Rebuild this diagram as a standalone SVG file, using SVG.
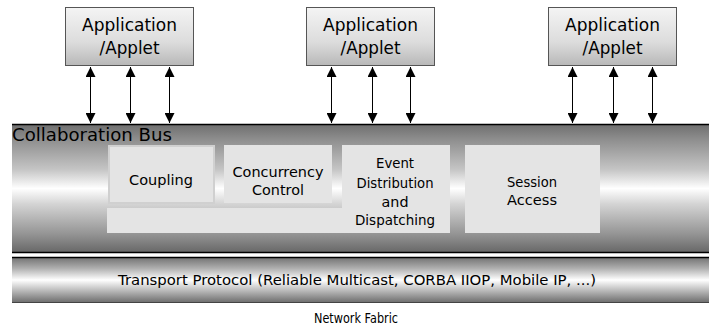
<svg xmlns="http://www.w3.org/2000/svg" width="709" height="328" viewBox="0 0 709 328">
  <defs>
    <linearGradient id="appFill" x1="0" y1="0" x2="0" y2="1">
      <stop offset="0" stop-color="#f4f4f4"/>
      <stop offset="0.6" stop-color="#dcdcdc"/>
      <stop offset="1" stop-color="#b8b8b8"/>
    </linearGradient>
    <linearGradient id="busFill" x1="0" y1="0" x2="0" y2="1">
      <stop offset="0" stop-color="#6e6e6e"/>
      <stop offset="0.12" stop-color="#8e8e8e"/>
      <stop offset="0.35" stop-color="#c4c4c4"/>
      <stop offset="0.5" stop-color="#ffffff"/>
      <stop offset="0.62" stop-color="#d4d4d4"/>
      <stop offset="0.85" stop-color="#959595"/>
      <stop offset="1" stop-color="#666666"/>
    </linearGradient>
    <linearGradient id="pipeFill" x1="0" y1="0" x2="0" y2="1">
      <stop offset="0" stop-color="#707070"/>
      <stop offset="0.25" stop-color="#b0b0b0"/>
      <stop offset="0.5" stop-color="#ffffff"/>
      <stop offset="0.75" stop-color="#b4b4b4"/>
      <stop offset="1" stop-color="#6a6a6a"/>
    </linearGradient>
    <marker id="head" viewBox="0 0 10 10" refX="10" refY="5" markerWidth="10" markerHeight="10" markerUnits="userSpaceOnUse" orient="auto-start-reverse">
      <path d="M0,0 L10,5 L0,10 Z" fill="#000"/>
    </marker>
  </defs>
  <style>
    .app { fill: url(#appFill); stroke: #555; stroke-width: 1; }
    .mod { fill: #e4e4e4; }
    .modEdge { fill: #e4e4e4; stroke: #d0d0d0; stroke-width: 2; }
    .t { font-family: "DejaVu Sans", "Liberation Sans", sans-serif; fill: #000; }
    .big { font-size: 17px; }
    .small { font-size: 14px; }
    .link { stroke: #000; stroke-width: 1; fill: none; marker-start: url(#head); marker-end: url(#head); }
  </style>

  <!-- transport layer and the network label below it -->
  <g id="transport">
    <rect x="12" y="257" width="697" height="46" fill="url(#pipeFill)"/>
    <line x1="12" y1="257.5" x2="709" y2="257.5" stroke="#000" stroke-width="1.5"/>
    <line x1="12" y1="302.5" x2="709" y2="302.5" stroke="#444" stroke-width="1"/>
    <text class="t small" x="357" y="285" text-anchor="middle" textLength="478" lengthAdjust="spacingAndGlyphs">Transport Protocol (Reliable Multicast, CORBA IIOP, Mobile IP, ...)</text>
  </g>
  <g id="network">
    <text class="t small" x="356" y="323" text-anchor="middle" textLength="84" lengthAdjust="spacingAndGlyphs">Network Fabric</text>
  </g>

  <!-- collaboration bus -->
  <g id="bus">
    <rect x="12" y="124" width="697" height="129" fill="url(#busFill)"/>
    <line x1="12" y1="124.5" x2="709" y2="124.5" stroke="#000" stroke-width="1.5"/>
    <line x1="12" y1="252.5" x2="709" y2="252.5" stroke="#000" stroke-width="1.5"/>
    <text class="t big" x="12" y="141" textLength="160" lengthAdjust="spacingAndGlyphs">Collaboration Bus</text>
  </g>

  <!-- shared strip under the first two modules -->
  <g id="strip">
    <rect class="mod" x="107" y="208" width="235" height="25"/>
  </g>

  <g id="coupling">
    <rect class="modEdge" x="109" y="146" width="105" height="57"/>
    <text class="t small" x="161" y="185" text-anchor="middle" textLength="64" lengthAdjust="spacingAndGlyphs">Coupling</text>
  </g>

  <g id="concurrency">
    <rect class="mod" x="224" y="145" width="108" height="58"/>
    <text class="t small" x="278" y="177" text-anchor="middle" textLength="91" lengthAdjust="spacingAndGlyphs">Concurrency</text>
    <text class="t small" x="278" y="195" text-anchor="middle" textLength="52" lengthAdjust="spacingAndGlyphs">Control</text>
  </g>

  <g id="event">
    <rect class="mod" x="342" y="145" width="108" height="88"/>
    <text class="t small" x="395" y="168" text-anchor="middle" textLength="38" lengthAdjust="spacingAndGlyphs">Event</text>
    <text class="t small" x="395" y="188" text-anchor="middle" textLength="77" lengthAdjust="spacingAndGlyphs">Distribution</text>
    <text class="t small" x="395" y="207" text-anchor="middle" textLength="27" lengthAdjust="spacingAndGlyphs">and</text>
    <text class="t small" x="395" y="225" text-anchor="middle" textLength="80" lengthAdjust="spacingAndGlyphs">Dispatching</text>
  </g>

  <g id="session">
    <rect class="mod" x="465" y="145" width="135" height="88"/>
    <text class="t small" x="532" y="187" text-anchor="middle" textLength="50" lengthAdjust="spacingAndGlyphs">Session</text>
    <text class="t small" x="532" y="205" text-anchor="middle" textLength="50" lengthAdjust="spacingAndGlyphs">Access</text>
  </g>

  <!-- application boxes -->
  <g id="app1">
    <rect class="app" x="65.5" y="7.5" width="128" height="58"/>
    <text class="t big" x="129.5" y="31" text-anchor="middle" textLength="95" lengthAdjust="spacingAndGlyphs">Application</text>
    <text class="t big" x="129.5" y="54" text-anchor="middle" textLength="60" lengthAdjust="spacingAndGlyphs">/Applet</text>
  </g>
  <g id="app2">
    <rect class="app" x="306.5" y="7.5" width="128" height="58"/>
    <text class="t big" x="370.5" y="31" text-anchor="middle" textLength="95" lengthAdjust="spacingAndGlyphs">Application</text>
    <text class="t big" x="370.5" y="54" text-anchor="middle" textLength="60" lengthAdjust="spacingAndGlyphs">/Applet</text>
  </g>
  <g id="app3">
    <rect class="app" x="548.5" y="7.5" width="128" height="58"/>
    <text class="t big" x="612.5" y="31" text-anchor="middle" textLength="95" lengthAdjust="spacingAndGlyphs">Application</text>
    <text class="t big" x="612.5" y="54" text-anchor="middle" textLength="60" lengthAdjust="spacingAndGlyphs">/Applet</text>
  </g>

  <!-- two-way links between applications and the bus -->
  <g id="connectors">
    <line class="link" x1="90.5" y1="67" x2="90.5" y2="123"/>
    <line class="link" x1="130.5" y1="67" x2="130.5" y2="123"/>
    <line class="link" x1="169.5" y1="67" x2="169.5" y2="123"/>
    <line class="link" x1="331.5" y1="67" x2="331.5" y2="123"/>
    <line class="link" x1="372.5" y1="67" x2="372.5" y2="123"/>
    <line class="link" x1="410.5" y1="67" x2="410.5" y2="123"/>
    <line class="link" x1="572.5" y1="67" x2="572.5" y2="123"/>
    <line class="link" x1="613.5" y1="67" x2="613.5" y2="123"/>
    <line class="link" x1="652.5" y1="67" x2="652.5" y2="123"/>
  </g>
</svg>
